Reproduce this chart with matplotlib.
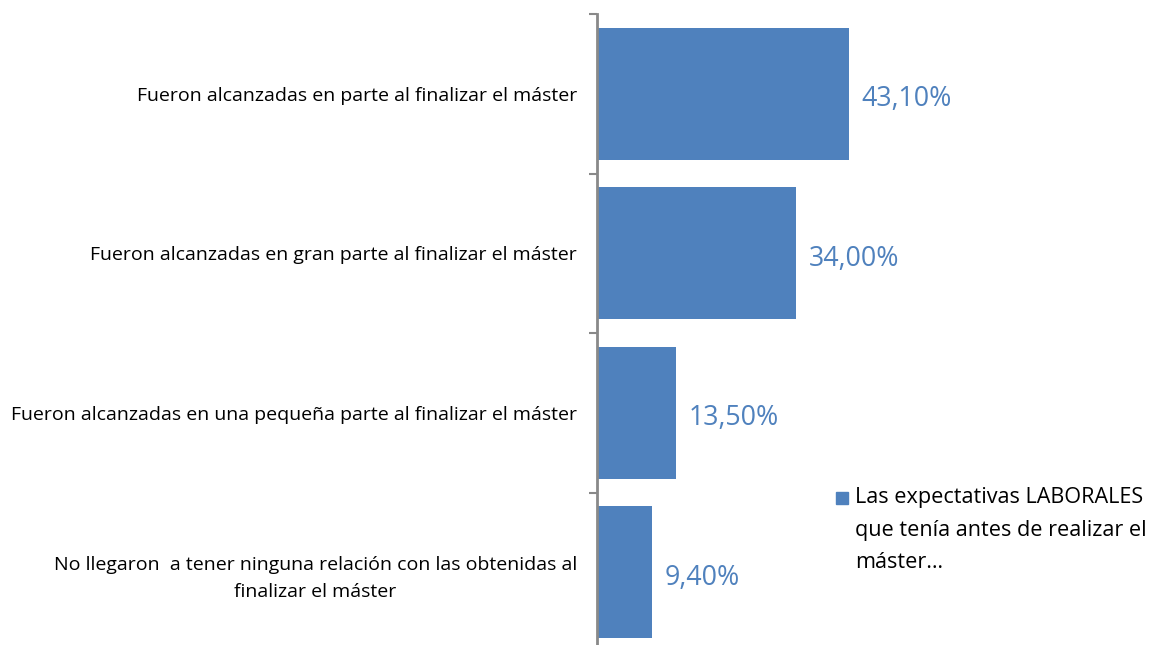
import matplotlib.pyplot as plt
from matplotlib.patches import Rectangle

plt.rcParams['font.family'] = ['Open Sans', 'DejaVu Sans']

categories = [
    'Fueron alcanzadas en parte al finalizar el máster',
    'Fueron alcanzadas en gran parte al finalizar el máster',
    'Fueron alcanzadas en una pequeña parte al finalizar el máster',
    'No llegaron  a tener ninguna relación con las obtenidas al\nfinalizar el máster',
]
values = [43.10, 34.00, 13.50, 9.40]
value_labels = ['43,10%', '34,00%', '13,50%', '9,40%']
legend_label = 'Las expectativas LABORALES\nque tenía antes de realizar el\nmáster…'

BAR_COLOR = '#4F81BD'
AXIS_COLOR = '#898989'
W, H = 1155, 645

fig = plt.figure(figsize=(W / 100, H / 100), dpi=100)
ax = fig.add_axes([597 / W, -7 / H, 300 / W, 638 / H])

pos = list(range(len(categories)))
bars = ax.barh(pos, values, height=0.83, color=BAR_COLOR)

ax.set_xlim(0, 300 / 5.847)
ax.set_ylim(len(categories) - 0.5, -0.5)

# tick marks between categories, labels at bar centres
ax.set_yticks([p - 0.5 for p in pos] + [len(categories) - 0.5])
ax.set_yticklabels([])
ax.set_yticks(pos, minor=True)
ax.set_yticklabels(categories, minor=True, fontsize=14,
                   multialignment='center', linespacing=1.6)
ax.tick_params(axis='y', which='major', length=6, width=1.5, color=AXIS_COLOR)
ax.tick_params(axis='y', which='minor', length=0, pad=14.5)

ax.xaxis.set_visible(False)
for side in ['top', 'right', 'bottom']:
    ax.spines[side].set_visible(False)
ax.spines['left'].set_color(AXIS_COLOR)
ax.spines['left'].set_linewidth(2)

for bar, txt in zip(bars, value_labels):
    ax.text(bar.get_width() + 2.2, bar.get_y() + bar.get_height() / 2 + 0.035,
            txt, va='center', ha='left', fontsize=19.3, color=BAR_COLOR)

# legend: square marker next to the first line of the series name
fig.patches.append(Rectangle((836 / W, 1 - 504 / H), 12 / W, 12 / H,
                             transform=fig.transFigure, color=BAR_COLOR))
fig.text(855 / W, 1 - 487 / H, legend_label, ha='left', va='top',
         fontsize=15.6, linespacing=1.73)

fig.savefig('out.png', dpi=100)
